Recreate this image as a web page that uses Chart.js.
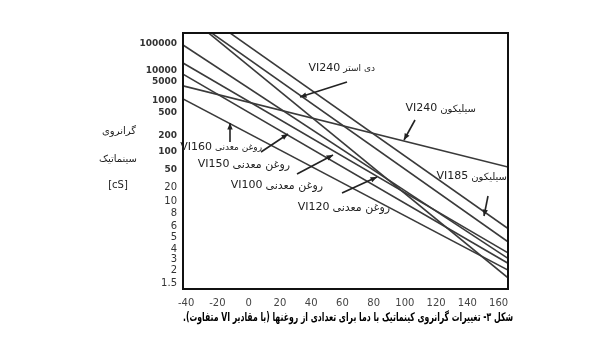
<!DOCTYPE html>
<html>
<head>
<meta charset="utf-8">
<script src="https://cdn.jsdelivr.net/npm/chart.js@4.4.1/dist/chart.umd.min.js"></script>
<style>
  body { margin: 0; background: #fff; }
  canvas { display: block; }
</style>
</head>
<body>
<canvas id="viscChart" width="600" height="339"></canvas>
<script>
// temperature (°C) at the left and right edge of the plot
var tempEnds = [-42, 166];
var xTicks = [-40, -20, 0, 20, 40, 60, 80, 100, 120, 140, 160];
var yTicks = [1.5, 2, 3, 4, 5, 6, 8, 10, 20, 50, 100, 200, 500, 1000, 5000, 10000, 100000];

// kinematic viscosity (cSt) at tempEnds
var mineralVI100 = [1600000, 1.7];
var mineralVI120 = [92000, 3.1];
var mineralOther = [19000, 3.6];
var mineralVI150 = [8000, 2.6];
var mineralVI160 = [1200, 2.0];
var diesterVI240 = [1500000, 4.6];
var siliconeVI240 = [3600, 55];
var siliconeVI185 = [4600000, 5.8];

// the printed axis is not a true log scale: each label sits at its own height
// [value, fraction of axis height]
var yAnchors = [
    [1.35, 0], [1.5, 0.02], [2, 0.074], [3, 0.115], [4, 0.156], [5, 0.201],
    [6, 0.244], [8, 0.297], [10, 0.344], [20, 0.395], [50, 0.467], [100, 0.535],
    [200, 0.6], [500, 0.688], [1000, 0.734], [5000, 0.809], [10000, 0.854],
    [100000, 0.957], [260000, 1]
];

function toDecimal(v, anchors) {
    var L = Math.log10(v);
    var i = 0;
    while (i < anchors.length - 2 && L > Math.log10(anchors[i + 1][0])) i++;
    var l0 = Math.log10(anchors[i][0]), l1 = Math.log10(anchors[i + 1][0]);
    return anchors[i][1] + (L - l0) / (l1 - l0) * (anchors[i + 1][1] - anchors[i][1]);
}

function fromDecimal(d, anchors) {
    var i = 0;
    while (i < anchors.length - 2 && d > anchors[i + 1][1]) i++;
    var l0 = Math.log10(anchors[i][0]), l1 = Math.log10(anchors[i + 1][0]);
    var t = (d - anchors[i][1]) / (anchors[i + 1][1] - anchors[i][1]);
    return Math.pow(10, l0 + t * (l1 - l0));
}

class ChartPaperScale extends Chart.Scale {
    determineDataLimits() {
        var a = this.options.anchors;
        this.min = a[0][0];
        this.max = a[a.length - 1][0];
    }
    buildTicks() {
        return yTicks.map(function (v) { return { value: v }; });
    }
    getLabelForValue(v) {
        return String(v);
    }
    getPixelForValue(v) {
        return this.getPixelForDecimal(toDecimal(v, this.options.anchors));
    }
    getValueForPixel(p) {
        return fromDecimal(this.getDecimalForPixel(p), this.options.anchors);
    }
}
ChartPaperScale.id = "chartpaper";
ChartPaperScale.defaults = {};
Chart.register(ChartPaperScale);

function series(vals) {
    return tempEnds.map(function (t, i) { return { x: t, y: vals[i] }; });
}

var lineColor = "#3a3a3a";
var allSeries = [mineralVI100, mineralVI120, mineralOther, mineralVI150,
    mineralVI160, diesterVI240, siliconeVI240, siliconeVI185];

var data = {
    datasets: allSeries.map(function (s) {
        return {
            data: series(s),
            borderColor: lineColor,
            borderWidth: 1.6,
            pointRadius: 0,
            fill: false,
        };
    }),
};

var faFont = "'DejaVu Sans', sans-serif";

function arrow(ctx, x0, y0, x1, y1) {
    ctx.beginPath();
    ctx.moveTo(x0, y0);
    ctx.lineTo(x1, y1);
    ctx.lineWidth = 1.6;
    ctx.strokeStyle = "#222";
    ctx.stroke();
    var a = Math.atan2(y1 - y0, x1 - x0);
    ctx.beginPath();
    ctx.moveTo(x1, y1);
    ctx.lineTo(x1 - 7 * Math.cos(a - 0.4), y1 - 7 * Math.sin(a - 0.4));
    ctx.lineTo(x1 - 7 * Math.cos(a + 0.4), y1 - 7 * Math.sin(a + 0.4));
    ctx.closePath();
    ctx.fillStyle = "#222";
    ctx.fill();
}

function label(ctx, xRight, y, fa, vi, faSize) {
    ctx.fillStyle = "#222";
    ctx.textBaseline = "middle";
    ctx.textAlign = "right";
    ctx.direction = "rtl";
    ctx.font = faSize + "px " + faFont;
    ctx.fillText(fa, xRight, y + 1);
    var w = ctx.measureText(fa).width;
    ctx.direction = "ltr";
    ctx.font = "11px " + faFont;
    ctx.fillText(vi, xRight - w - 3, y);
}

var annotations = {
    id: "annotations",
    afterDraw: function (chart) {
        var ctx = chart.ctx;
        var a = chart.chartArea;
        ctx.save();
        ctx.strokeStyle = "#111";
        ctx.lineWidth = 2;
        ctx.strokeRect(a.left, a.top, a.right - a.left, a.bottom - a.top);

        label(ctx, 375, 68, "دی استر", "VI240", 9);
        arrow(ctx, 347, 82, 300, 97);
        label(ctx, 476, 108, "سیلیکون", "VI240", 10);
        arrow(ctx, 415, 120, 404, 140);
        label(ctx, 507, 176, "سیلیکون", "VI185", 10);
        arrow(ctx, 488, 196, 484, 216);
        label(ctx, 262, 147, "روغن معدنی", "VI160", 9);
        arrow(ctx, 230, 142, 230, 123);
        label(ctx, 290, 164, "روغن معدنی", "VI150", 11);
        arrow(ctx, 261, 152, 288, 134);
        label(ctx, 323, 185, "روغن معدنی", "VI100", 11);
        arrow(ctx, 297, 174, 333, 155);
        label(ctx, 390, 207, "روغن معدنی", "VI120", 11);
        arrow(ctx, 342, 193, 377, 177);

        ctx.fillStyle = "#222";
        ctx.textAlign = "center";
        ctx.textBaseline = "middle";
        ctx.direction = "rtl";
        ctx.font = "10px " + faFont;
        ctx.fillText("گرانروی", 119, 131);
        ctx.fillText("سینماتیک", 118, 159);
        ctx.direction = "ltr";
        ctx.fillText("[cS]", 118, 185);

        ctx.direction = "rtl";
        ctx.font = "bold 12px " + faFont;
        ctx.fillStyle = "#000";
        ctx.fillText("شکل ۳- تغییرات گرانروی کینماتیک با دما برای تعدادی از روغنها (با مقادیر VI متفاوت).", 348, 318, 330);
        ctx.restore();
    },
};

var options = {
    responsive: false,
    animation: false,
    events: [],
    layout: { padding: { left: 0, top: 33, right: 92, bottom: 30 } },
    plugins: { legend: { display: false }, tooltip: { enabled: false } },
    scales: {
        x: {
            type: "linear",
            min: tempEnds[0],
            max: tempEnds[1],
            grid: { display: false, drawTicks: false },
            border: { display: false },
            afterBuildTicks: function (axis) {
                axis.ticks = xTicks.map(function (v) { return { value: v }; });
            },
            afterFit: function (axis) { axis.height = 20; },
            ticks: {
                autoSkip: false,
                maxRotation: 0,
                padding: 8,
                color: "#444",
                font: { family: "'DejaVu Sans', sans-serif", size: 10 },
                callback: function (v) { return String(v); },
            },
        },
        y: {
            type: "chartpaper",
            anchors: yAnchors,
            grid: { display: false, drawTicks: false },
            border: { display: false },
            afterFit: function (axis) { axis.width = 183; },
            ticks: {
                autoSkip: false,
                padding: 6,
                color: "#333",
                font: function (c) {
                    if (c.tick && c.tick.value <= 20) {
                        return { family: "'DejaVu Sans', sans-serif", size: 10 };
                    }
                    return { family: "'DejaVu Sans', sans-serif", size: 9, weight: "bold" };
                },
                callback: function (v) { return String(v); },
            },
        },
    },
};

var ctx = document.getElementById("viscChart").getContext("2d");
var myChart = new Chart(ctx, {
    type: "line",
    data: data,
    options: options,
    plugins: [annotations],
});
</script>
</body>
</html>
